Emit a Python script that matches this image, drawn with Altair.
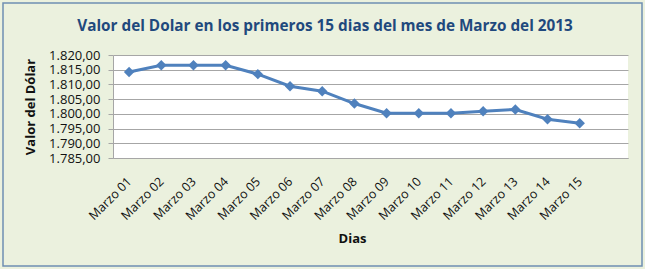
import altair as alt
import pandas as pd

days = ["Marzo 01", "Marzo 02", "Marzo 03", "Marzo 04", "Marzo 05", "Marzo 06", "Marzo 07",
        "Marzo 08", "Marzo 09", "Marzo 10", "Marzo 11", "Marzo 12", "Marzo 13", "Marzo 14", "Marzo 15"]
values = [1814.2, 1816.5, 1816.5, 1816.5, 1813.5, 1809.4, 1807.7,
          1803.5, 1800.2, 1800.2, 1800.2, 1800.9, 1801.5, 1798.2, 1796.8]
y_ticks = [1785, 1790, 1795, 1800, 1805, 1810, 1815, 1820]
title_text = "Valor del Dolar en los primeros 15 dias del mes de Marzo del 2013"

df = pd.DataFrame({"dia": days, "valor": values})

FONT = "Open Sans"
euro = "replace(replace(replace(format(datum.value, ',.2f'), ',', '#'), '.', ','), '#', '.')"

x_enc = alt.X(
    "dia:N",
    sort=days,
    scale=alt.Scale(domain=days + [" "], type="point", padding=0.5),
    axis=alt.Axis(
        title="Dias", titleFont=FONT, titleFontSize=13, titleFontWeight="bold", titleColor="#111111",
        titleX=239, titlePadding=11,
        labelAngle=-45, labelAlign="right", labelBaseline="middle", labelPadding=21,
        labelFont=FONT, labelFontSize=12.5, labelColor="#111111",
        domainColor="#A6A6A6", domainWidth=1, ticks=False, grid=False,
        labelExpr="datum.value == ' ' ? '' : datum.value",
    ),
)
y_enc = alt.Y(
    "valor:Q",
    scale=alt.Scale(domain=[1785, 1820], nice=False, zero=False),
    axis=alt.Axis(
        title="Valor del Dólar", titleFont=FONT, titleFontSize=13, titleFontWeight="bold", titleColor="#111111",
        titlePadding=11,
        values=y_ticks, labelExpr=euro, labelFont=FONT, labelFontSize=13, labelColor="#111111",
        labelPadding=8, tickSize=5, tickColor="#A6A6A6", domainColor="#A6A6A6",
        grid=True, gridColor="#A6A6A6", gridWidth=1,
    ),
)

line = alt.Chart(df).mark_line(
    color="#4F81BD", strokeWidth=3,
    point=alt.OverlayMarkDef(shape="diamond", size=110, filled=True, color="#4F81BD"),
).encode(x=x_enc, y=y_enc)

frame = alt.Chart(alt.Data(values=[{}])).mark_rect(
    fill=None, stroke="#6F8FB2", strokeWidth=1.5
).encode(
    x=alt.value(-110), x2=alt.value(529), y=alt.value(-52), y2=alt.value(211)
)

title = alt.Chart(alt.Data(values=[{"t": title_text}])).mark_text(
    font=FONT, fontSize=15.3, fontWeight="bold", color="#1F497D",
    align="center", baseline="alphabetic",
).encode(x=alt.value(212), y=alt.value(-24), text="t:N")

chart = alt.layer(frame, title, line).properties(
    width=515, height=103,
    padding={"left": 113, "top": 55, "right": 17, "bottom": 111},
    autosize=alt.AutoSizeParams(type="none"),
    background="#EBF1DE",
).configure_view(fill="white", stroke=None)

chart.save("out.html", embed_options={"renderer": "svg", "actions": False})
